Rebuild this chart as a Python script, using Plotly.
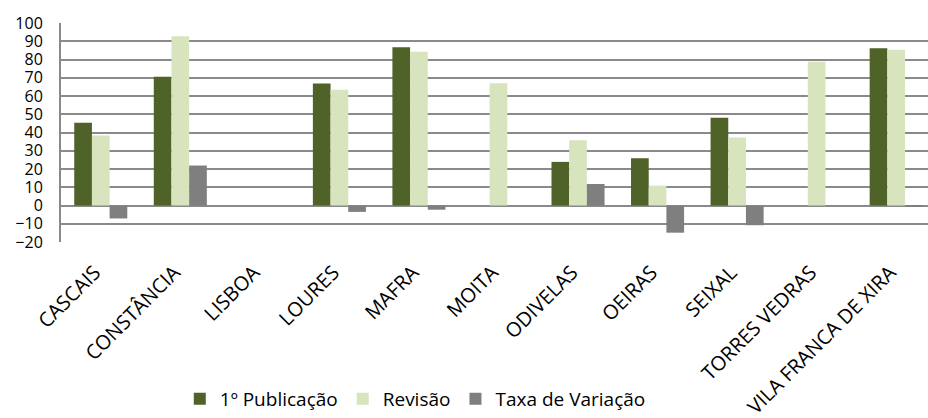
import plotly.graph_objects as go

categories = ["CASCAIS", "CONSTÂNCIA", "LISBOA", "LOURES", "MAFRA", "MOITA",
              "ODIVELAS", "OEIRAS", "SEIXAL", "TORRES VEDRAS", "VILA FRANCA DE XIRA"]
publicacao = [45.4, 70.5, None, 66.8, 86.7, None, 23.9, 25.9, 48.1, None, 86.2]
revisao = [38.3, 92.7, None, 63.4, 84.3, 67.0, 35.7, 10.9, 37.3, 78.7, 85.4]
taxa = [-7.1, 21.9, None, -3.5, -2.3, None, 11.8, -14.9, -10.8, None, -0.7]

series_names = ["1º Publicação", "Revisão", "Taxa de Variação"]
colors = ["#4F6228", "#D7E4BD", "#7F7F7F"]

FONT = "Open Sans"

fig = go.Figure()
for name, vals, col in zip(series_names, [publicacao, revisao, taxa], colors):
    fig.add_trace(go.Bar(x=categories, y=vals, name=name, marker_color=col,
                         marker_line_width=0))

fig.update_layout(
    width=928, height=418,
    margin=dict(l=61, r=0, t=23, b=176, autoexpand=False),
    plot_bgcolor="white", paper_bgcolor="white",
    barmode="group", bargap=0.333, bargroupgap=0,
    font=dict(family=FONT, size=15, color="black"),
    legend=dict(orientation="h", x=0.137, xanchor="left", y=-0.8037, yanchor="bottom",
                font=dict(size=19), itemwidth=30, traceorder="normal",
                bgcolor="rgba(0,0,0,0)"),
    showlegend=True,
)
fig.update_yaxes(range=[-20, 100], dtick=10, showgrid=True, gridcolor="#8A8A8A", gridwidth=2,
                 zeroline=False, showline=True, linecolor="#8A8A8A", linewidth=2,
                 ticks="", ticklabelstandoff=13, tickfont=dict(size=16), automargin=False)
fig.update_xaxes(range=[-0.5, 10.4], tickangle=-45, showgrid=False, showline=False, ticks="",
                 ticklabelstandoff=14, ticklabelshift=-6, tickfont=dict(size=20),
                 automargin=False)

fig.write_html("out.html", config={"displayModeBar": False},
               post_script="document.body.style.margin='0';document.body.style.overflow='hidden';")
